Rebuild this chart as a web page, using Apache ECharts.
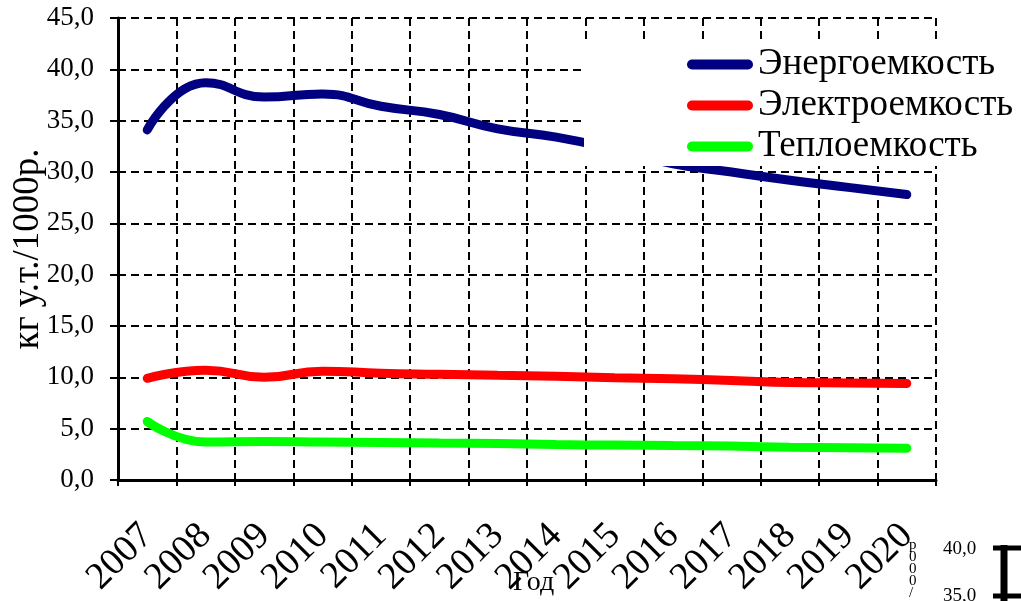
<!DOCTYPE html>
<html><head><meta charset="utf-8">
<script src="https://cdn.jsdelivr.net/npm/echarts@6/dist/echarts.min.js"></script>
<style>html,body{margin:0;padding:0;background:#fff}#c{width:1021px;height:601px}</style>
</head><body><div id="c"></div>
<script>
var years = ['2007','2008','2009','2010','2011','2012','2013','2014','2015','2016','2017','2018','2019','2020'];
var energy = [34.1, 38.7, 37.3, 37.6, 36.4, 35.6, 34.2, 33.4, 32.2, 30.8, 30.0, 29.2, 28.5, 27.8];
var electro = [9.9, 10.7, 10.0, 10.6, 10.4, 10.3, 10.2, 10.1, 9.95, 9.85, 9.7, 9.5, 9.45, 9.4];
var thermal = [5.7, 3.7, 3.75, 3.7, 3.65, 3.6, 3.55, 3.45, 3.4, 3.35, 3.3, 3.2, 3.15, 3.1];
var seriesNames = ['Энергоемкость', 'Электроемкость', 'Теплоемкость'];
var seriesColors = ['#000080', '#ff0000', '#00ff00'];
var yTitle = 'кг у.т./1000р.';
var xTitle = 'Год';

var font = 'Liberation Serif';
var chart = echarts.init(document.getElementById('c'));
var capsule = 'path://M5,0 H61 A5,5 0 0 1 61,10 H5 A5,5 0 0 1 5,0 Z';
function mk(name, data, color) {
  return { name: name, type: 'line', data: data, smooth: 0.5, symbol: 'none',
    lineStyle: { color: color, width: 9, cap: 'round' }, itemStyle: { color: color }, z: 2 };
}
chart.setOption({
  animation: false,
  grid: { left: 118, right: 85, top: 18, bottom: 121, containLabel: false, outerBoundsMode: 'none' },
  legend: {
    orient: 'vertical', left: 687, top: 44, padding: 0, itemWidth: 66, itemHeight: 10, itemGap: 0,
    icon: capsule, z: 20,
    textStyle: { fontFamily: font, fontSize: 37, lineHeight: 41, color: '#000', padding: [0,0,0,0] },
    data: seriesNames
  },
  xAxis: {
    type: 'category', data: years, boundaryGap: true,
    axisLine: { lineStyle: { color: '#000', width: 3 } },
    axisTick: { show: true, length: 10, interval: 0, lineStyle: { color: '#000', width: 2, type: [6, 4] } },
    splitLine: { show: true, interval: 0, lineStyle: { color: '#000', width: 2, type: [8, 5] } },
    axisLabel: { rotate: 45, interval: 0, margin: 50, fontFamily: font, fontSize: 38, color: '#000' }
  },
  yAxis: {
    type: 'value', min: 0, max: 45, interval: 5,
    name: yTitle, nameLocation: 'middle', nameGap: 71, nameRotate: 90, nameMoveOverlap: false,
    nameTextStyle: { fontFamily: font, fontSize: 37, color: '#000' },
    axisLine: { show: true, lineStyle: { color: '#000', width: 3 } },
    axisTick: { show: true, length: 8, lineStyle: { color: '#000', width: 2 } },
    splitLine: { show: true, lineStyle: { color: '#000', width: 2, type: [8, 5] } },
    axisLabel: { margin: 24, fontFamily: font, fontSize: 27, color: '#000',
      formatter: function (v) { return v.toFixed(1).replace('.', ','); } }
  },
  graphic: [
    { type: 'rect', left: 584, top: 42, shape: { width: 437, height: 124 }, style: { fill: '#fff' }, z: 10 },
    { type: 'text', left: 513, top: 569, style: { text: xTitle, fontFamily: font, fontSize: 28, fill: '#000' }, z: 10 },
    { type: 'text', left: 943, top: 540, style: { text: '40,0', fontFamily: font, fontSize: 19, fill: '#000' }, z: 10 },
    { type: 'text', left: 943, top: 587, style: { text: '35,0', fontFamily: font, fontSize: 19, fill: '#000' }, z: 10 },
    { type: 'text', left: 909, top: 538, style: { text: 'р\n0\n0\n0\n/', fontFamily: font, fontSize: 15, lineHeight: 12, fill: '#000' }, z: 10 },
    { type: 'line', shape: { x1: 1004, y1: 545, x2: 1004, y2: 601 }, style: { stroke: '#000', lineWidth: 7 }, z: 10 },
    { type: 'line', shape: { x1: 993, y1: 548, x2: 1021, y2: 548 }, style: { stroke: '#000', lineWidth: 5 }, z: 10 },
    { type: 'line', shape: { x1: 993, y1: 596, x2: 1021, y2: 596 }, style: { stroke: '#000', lineWidth: 5 }, z: 10 }
  ],
  series: [
    mk(seriesNames[0], energy, seriesColors[0]),
    mk(seriesNames[1], electro, seriesColors[1]),
    mk(seriesNames[2], thermal, seriesColors[2])
  ]
});
</script></body></html>
